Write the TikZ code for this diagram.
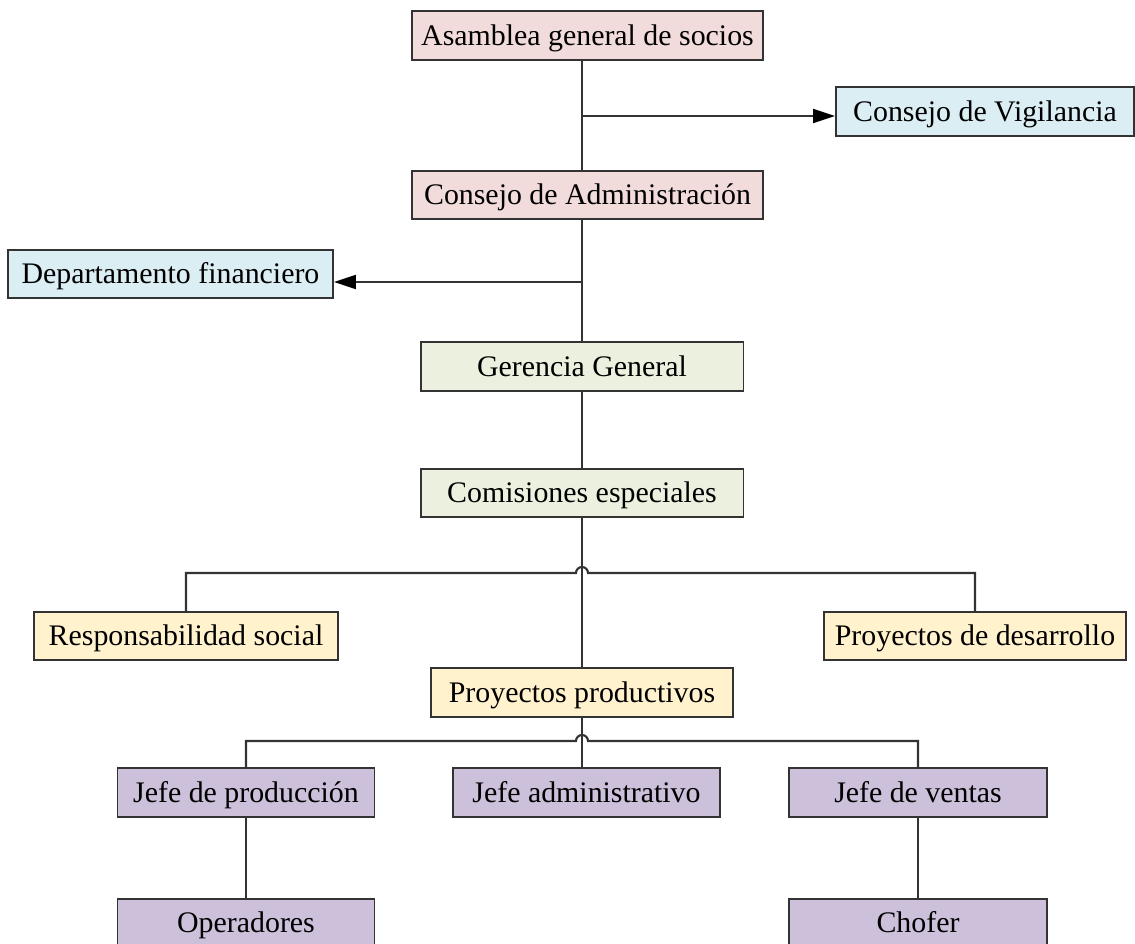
\documentclass[tikz,border=0pt]{standalone}
\usepackage{fontspec}
\setmainfont{Liberation Serif}
\usetikzlibrary{positioning}
\usetikzlibrary{arrows.meta}
\usepackage{tikz}

\definecolor{pinkfill}{HTML}{F2DCDB}
\definecolor{bluefill}{HTML}{DBEEF4}
\definecolor{greenfill}{HTML}{EBF1DE}
\definecolor{yellowfill}{HTML}{FFF2CC}
\definecolor{lilacfill}{HTML}{CCC0DA}

\begin{document}
\begin{tikzpicture}[x=0.02cm,y=-0.02cm,
  orgbox/.style={draw=black!80, line width=1.1pt, rectangle, minimum height=0.97cm,
    font=\fontsize{17}{20}\selectfont, text height=11pt, text depth=0pt, inner sep=2pt},
  link/.style={draw=black!80, line width=1.2pt},
  arrow/.style={link, -{Triangle[length=0.44cm,width=0.28cm,color=black]}}]

\useasboundingbox (0,0) rectangle (1135,943);

\node[orgbox, fill=pinkfill, minimum width=7.02cm] (asamblea) at (587.5,35.5) {Asamblea general de socios};
\node[orgbox, fill=pinkfill, minimum width=7.02cm, below=2.18cm of asamblea] (admin) {Consejo de Administración};
\node[orgbox, fill=bluefill, minimum width=5.96cm] (vigilancia) at (985,111.5) {Consejo de Vigilancia};
\node[orgbox, fill=bluefill, minimum width=6.5cm] (financiero) at (170.5,274) {Departamento financiero};

\node[orgbox, fill=greenfill, minimum width=6.46cm] (gerencia) at (582,366.5) {Gerencia General};
\node[orgbox, fill=greenfill, minimum width=6.46cm, below=1.52cm of gerencia] (comisiones) {Comisiones especiales};

\node[orgbox, fill=yellowfill, minimum width=6.08cm] (responsabilidad) at (186,636) {Responsabilidad social};
\node[orgbox, fill=yellowfill, minimum width=6.04cm] (desarrollo) at (975,636) {Proyectos de desarrollo};
\node[orgbox, fill=yellowfill, minimum width=6.04cm] (productivos) at (582,692.5) {Proyectos productivos};

\node[orgbox, fill=lilacfill, minimum width=5.14cm] (jefeprod) at (246,792.5) {Jefe de producción};
\node[orgbox, fill=lilacfill, minimum width=5.34cm] (jefeadmin) at (586.5,792.5) {Jefe administrativo};
\node[orgbox, fill=lilacfill, minimum width=5.16cm] (jefeventas) at (918,792.5) {Jefe de ventas};
\node[orgbox, fill=lilacfill, minimum width=5.14cm, below=1.6cm of jefeprod] (operadores) {Operadores};
\node[orgbox, fill=lilacfill, minimum width=5.16cm, below=1.6cm of jefeventas] (chofer) {Chofer};

% main spine
\coordinate (vigbranch) at (582,116);
\coordinate (finbranch) at (582,282);
\draw[link] (gerencia.north |- asamblea.south) -- (gerencia.north |- admin.north);
\draw[link] (gerencia.north |- admin.south) -- (gerencia.north);
\draw[arrow] (vigbranch) -- (vigbranch -| vigilancia.west);
\draw[arrow] (finbranch) -- (finbranch -| financiero.east);
\draw[link] (gerencia) -- (comisiones);
\draw[link] (comisiones.south) -- (productivos.north);

% bars with a hop over the spine
\coordinate (bar1) at (582,573);
\coordinate (bar2) at (582,741);
\draw[link] (responsabilidad.north) |- ([xshift=-0.12cm]bar1)
  arc[start angle=180,end angle=0,radius=0.12cm] -| (desarrollo.north);
\draw[link] (productivos.south) -- (productivos.south |- jefeadmin.north);
\draw[link] (jefeprod.north) |- ([xshift=-0.12cm]bar2)
  arc[start angle=180,end angle=0,radius=0.12cm] -| (jefeventas.north);

\draw[link] (jefeprod) -- (operadores);
\draw[link] (jefeventas) -- (chofer);

\end{tikzpicture}
\end{document}
